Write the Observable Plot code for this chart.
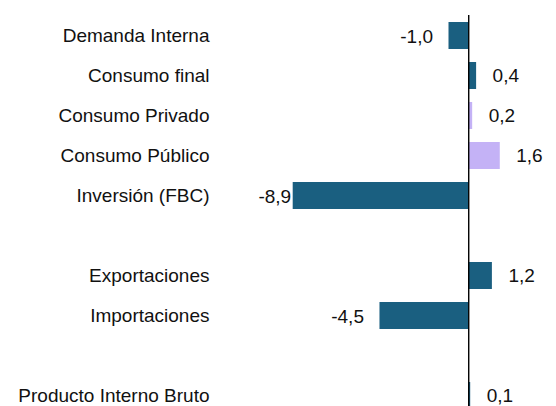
<!DOCTYPE html>
<html>
<head>
<meta charset="utf-8">
<script src="https://cdn.jsdelivr.net/npm/d3@7"></script>
<script src="https://cdn.jsdelivr.net/npm/@observablehq/plot@0.6"></script>
<style>
  html, body { margin: 0; padding: 0; background: #ffffff; }
  #chart { width: 556px; height: 406px; overflow: hidden; }
</style>
</head>
<body>
<div id="chart"></div>
<script>
const categories = ["Demanda Interna", "Consumo final", "Consumo Privado", "Consumo Público", "Inversión (FBC)", " ", "Exportaciones", "Importaciones", "  ", "Producto Interno Bruto"];
const values = [-1.0, 0.4, 0.2, 1.6, -8.9, null, 1.2, -4.5, null, 0.1];
const groups = ["main", "main", "sub", "sub", "main", null, "main", "main", null, "main"];

const data = categories.map((c, i) => ({category: c, value: values[i], group: groups[i]}))
  .filter(d => d.value !== null);
const fmt = v => d3.format(".1f")(v).replace(".", ",").replace("−", "-");
// labels of very long negative bars sit tight against the bar (plot-area limit)
const tight = d => d.value < -8;

const plot = Plot.plot({
  width: 556,
  height: 416,
  marginTop: 15,
  marginBottom: 0,
  marginLeft: 271,
  marginRight: 1,
  style: {fontFamily: "'Liberation Sans', Arial, sans-serif", fontSize: "19px", color: "#111"},
  x: {domain: [-10, 4.4], axis: null},
  y: {domain: categories, range: [15.5, 415.5], paddingInner: 0.32, paddingOuter: 0.16, label: null},
  color: {domain: ["main", "sub"], range: ["#1a5f80", "#c4b2f6"]},
  marks: [
    Plot.barX(data, {x: "value", y: "category", fill: "group"}),
    Plot.ruleX([0], {stroke: "#000", strokeWidth: 1.4}),
    Plot.axisY({tickSize: 0, tickPadding: 62, fontSize: 19, label: null, fill: "#111"}),
    Plot.text(data.filter(d => d.value < 0 && !tight(d)), {
      x: "value", y: "category", text: d => fmt(d.value),
      textAnchor: "end", dx: -16, dy: 1, fontSize: 19, fill: "#111"
    }),
    Plot.text(data.filter(d => tight(d)), {
      x: "value", y: "category", text: d => fmt(d.value),
      textAnchor: "end", dx: -2, dy: 1, fontSize: 19, fill: "#111"
    }),
    Plot.text(data.filter(d => d.value >= 0), {
      x: "value", y: "category", text: d => fmt(d.value),
      textAnchor: "start", dx: 16, dy: 0, fontSize: 19, fill: "#111"
    })
  ]
});

document.getElementById("chart").appendChild(plot);
</script>
</body>
</html>
